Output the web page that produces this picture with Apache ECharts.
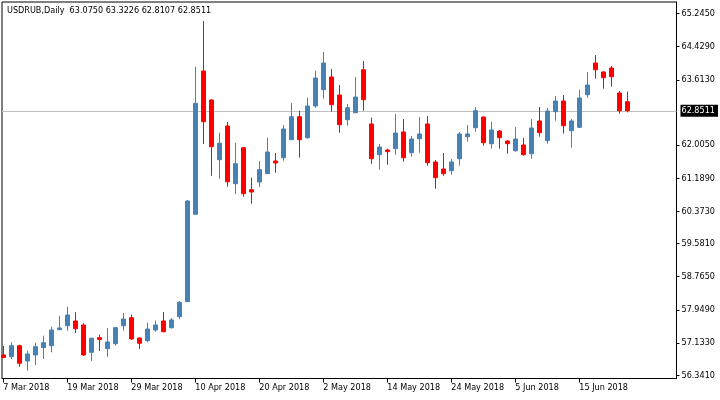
<!DOCTYPE html>
<html>
<head>
    <meta charset="utf-8">
    <title>USDRUB,Daily</title>
    <script src="https://cdn.jsdelivr.net/npm/echarts@6/dist/echarts.min.js"></script>
    <style>
        html, body { margin: 0; padding: 0; background: #fff; }
        #chart { width: 720px; height: 400px; }
    </style>
</head>
<body>
<div id="chart"></div>
<script type="text/javascript">
    // trading days shown on the chart
    var dates = [
        '7 Mar 2018', '8 Mar 2018', '9 Mar 2018', '12 Mar 2018', '13 Mar 2018', '14 Mar 2018', '15 Mar 2018', '16 Mar 2018',
        '19 Mar 2018', '20 Mar 2018', '21 Mar 2018', '22 Mar 2018', '23 Mar 2018', '26 Mar 2018', '27 Mar 2018', '28 Mar 2018',
        '29 Mar 2018', '30 Mar 2018', '2 Apr 2018', '3 Apr 2018', '4 Apr 2018', '5 Apr 2018', '6 Apr 2018', '9 Apr 2018',
        '10 Apr 2018', '11 Apr 2018', '12 Apr 2018', '13 Apr 2018', '16 Apr 2018', '17 Apr 2018', '18 Apr 2018', '19 Apr 2018',
        '20 Apr 2018', '23 Apr 2018', '24 Apr 2018', '25 Apr 2018', '26 Apr 2018', '27 Apr 2018', '30 Apr 2018', '1 May 2018',
        '2 May 2018', '3 May 2018', '4 May 2018', '7 May 2018', '8 May 2018', '9 May 2018', '10 May 2018', '11 May 2018',
        '14 May 2018', '15 May 2018', '16 May 2018', '17 May 2018', '18 May 2018', '21 May 2018', '22 May 2018', '23 May 2018',
        '24 May 2018', '25 May 2018', '28 May 2018', '29 May 2018', '30 May 2018', '31 May 2018', '1 Jun 2018', '4 Jun 2018',
        '5 Jun 2018', '6 Jun 2018', '7 Jun 2018', '8 Jun 2018', '11 Jun 2018', '12 Jun 2018', '13 Jun 2018', '14 Jun 2018',
        '15 Jun 2018', '18 Jun 2018', '19 Jun 2018', '20 Jun 2018', '21 Jun 2018', '22 Jun 2018', '25 Jun 2018'
    ];

    var open = [
        56.838, 56.796, 57.067, 56.690, 56.838, 57.018, 57.067, 57.461, 57.559, 57.675,
        57.576, 56.904, 57.264, 56.993, 57.116, 57.559, 57.756, 57.256, 57.190, 57.453,
        57.675, 57.510, 57.781, 58.150, 60.302, 63.829, 63.116, 61.646, 62.475, 61.055,
        61.941, 60.907, 61.097, 61.301, 61.614, 61.695, 62.138, 62.704, 62.187, 62.968,
        63.369, 63.682, 63.239, 62.631, 62.803, 63.861, 62.525, 61.769, 61.885, 61.917,
        62.328, 61.818, 62.163, 62.525, 61.589, 61.417, 61.375, 61.670, 62.212, 62.434,
        62.697, 62.040, 62.352, 62.106, 61.867, 62.008, 61.794, 62.599, 62.114, 62.828,
        63.091, 62.360, 62.443, 63.246, 64.026, 63.805, 63.903, 63.288, 63.0750
    ];
    var close = [
        56.776, 57.067, 56.634, 56.863, 57.042, 57.141, 57.453, 57.503, 57.823, 57.485,
        56.838, 57.249, 57.220, 57.158, 57.510, 57.724, 57.232, 57.126, 57.478, 57.576,
        57.411, 57.700, 58.135, 60.629, 63.034, 62.581, 61.966, 62.052, 61.104, 61.547,
        60.809, 60.851, 61.400, 61.835, 61.565, 62.402, 62.704, 62.138, 62.968, 63.657,
        64.026, 63.000, 62.507, 62.926, 63.189, 63.123, 61.670, 61.958, 61.843, 62.303,
        61.695, 62.155, 62.279, 61.572, 61.203, 61.301, 61.589, 62.279, 62.279, 62.852,
        62.064, 62.377, 62.187, 62.040, 62.155, 61.769, 62.426, 62.311, 62.845, 63.091,
        62.483, 62.599, 63.165, 63.485, 63.861, 63.665, 63.689, 62.852, 62.8511
    ];
    var low = [
        56.757, 56.739, 56.550, 56.451, 56.592, 56.739, 56.904, 57.453, 57.436, 57.380,
        56.813, 56.690, 56.936, 56.796, 57.067, 57.436, 57.207, 56.986, 57.151, 57.411,
        57.397, 57.485, 57.717, 58.143, 60.290, 62.032, 61.252, 61.176, 60.981, 60.801,
        60.735, 60.563, 60.974, 61.294, 61.326, 61.621, 62.131, 61.695, 62.163, 62.926,
        63.148, 62.828, 62.311, 62.483, 62.790, 62.852, 61.547, 61.400, 61.523, 61.769,
        61.597, 61.720, 61.818, 61.498, 60.932, 61.252, 61.277, 61.498, 62.089, 62.335,
        61.990, 61.917, 61.917, 61.794, 61.843, 61.744, 61.670, 62.212, 62.040, 62.606,
        62.286, 61.941, 62.426, 63.172, 63.640, 63.394, 63.443, 62.778, 62.8107
    ];
    var high = [
        57.060, 57.151, 57.092, 56.944, 57.141, 57.313, 57.535, 57.805, 58.027, 57.889,
        57.618, 57.264, 57.338, 57.503, 57.527, 57.872, 57.830, 57.273, 57.633, 57.682,
        57.897, 57.749, 58.167, 60.654, 63.935, 65.060, 63.130, 62.311, 62.574, 62.064,
        61.958, 61.203, 61.614, 62.187, 61.811, 62.500, 63.042, 62.852, 63.172, 63.837,
        64.297, 63.879, 63.485, 63.017, 63.682, 64.076, 62.680, 62.032, 61.917, 62.771,
        62.648, 62.229, 62.697, 62.722, 61.638, 61.811, 61.663, 62.328, 62.500, 62.943,
        62.709, 62.574, 62.377, 62.131, 62.451, 62.180, 62.648, 62.943, 62.919, 63.214,
        63.239, 62.648, 63.362, 63.805, 64.223, 63.829, 63.953, 63.337, 63.3226
    ];

    // tick labels
    var priceTicks = [56.3410, 57.1330, 57.9490, 58.7650, 59.5810, 60.3730, 61.1890, 62.0050, 63.6130, 64.4290, 65.2450];
    var dateTicks = [0, 8, 16, 24, 32, 40, 48, 56, 64, 72];
    var lastPrice = 62.8511;
    var titleText = 'USDRUB,Daily  63.0750 63.3226 62.8107 62.8511';

    var candles = dates.map(function (d, i) {
        return [i, open[i], close[i], low[i], high[i]];
    });

    var font = "'DejaVu Sans Condensed', 'Liberation Sans', sans-serif";
    var myChart = echarts.init(document.getElementById('chart'));

    myChart.setOption({
        animation: false,
        backgroundColor: '#fff',
        title: {
            text: titleText,
            left: 7,
            top: 6,
            padding: 0,
            textStyle: {fontFamily: font, fontSize: 9, fontWeight: 'normal', color: '#000'}
        },
        grid: {
            left: 2, top: 2, right: 43.5, bottom: 21.5,
            show: true, borderColor: '#000', borderWidth: 1, backgroundColor: '#fff'
        },
        xAxis: {
            type: 'value',
            min: -0.1625,
            max: 84.15,
            splitLine: {show: false},
            axisLine: {show: true, onZero: false, lineStyle: {color: '#000', width: 1}},
            axisTick: {show: true, length: 4, customValues: dateTicks, lineStyle: {color: '#000'}},
            axisLabel: {
                customValues: dateTicks,
                align: 'left',
                margin: 5,
                color: '#000',
                fontFamily: font,
                fontSize: 9,
                formatter: function (v) { return dates[v] || ''; }
            }
        },
        yAxis: {
            type: 'value',
            position: 'right',
            min: 56.259,
            max: 65.528,
            scale: true,
            splitLine: {show: false},
            axisLine: {show: true, onZero: false, lineStyle: {color: '#000', width: 1}},
            axisTick: {show: true, length: 3, customValues: priceTicks, lineStyle: {color: '#000'}},
            axisLabel: {
                customValues: priceTicks,
                margin: 5,
                color: '#000',
                fontFamily: font,
                fontSize: 9,
                formatter: function (v) { return v.toFixed(4); }
            }
        },
        series: [
            {
                name: 'USDRUB',
                type: 'candlestick',
                data: candles,
                encode: {x: 0, y: [1, 2, 3, 4]},
                barWidth: 4,
                clip: true,
                itemStyle: {
                    color: '#4682B4',
                    color0: '#FF0000',
                    borderColor: '#4682B4',
                    borderColor0: '#FF0000',
                    borderWidth: 1
                },
                markLine: {
                    z: 1,
                    silent: true,
                    symbol: ['none', 'none'],
                    lineStyle: {color: '#c0c0c0', width: 1, type: 'solid'},
                    label: {
                        show: true,
                        position: 'end',
                        distance: 4,
                        formatter: lastPrice.toFixed(4),
                        color: '#fff',
                        backgroundColor: '#000',
                        padding: [2, 3, 1, 1],
                        fontFamily: font,
                        fontSize: 9
                    },
                    data: [{yAxis: lastPrice}]
                }
            }
        ]
    });
</script>
</body>
</html>
